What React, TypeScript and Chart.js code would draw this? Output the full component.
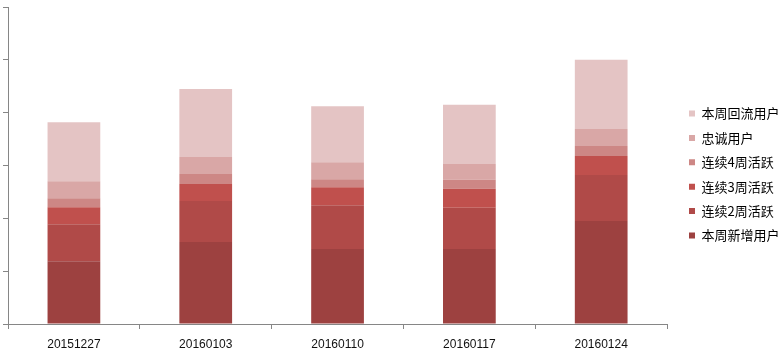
import React, { useEffect, useRef } from "react";
import { Chart, registerables } from "chart.js";

Chart.register(...registerables);

const categories = ["20151227", "20160103", "20160110", "20160117", "20160124"];
const seriesNames = ["本周新增用户", "连续2周活跃", "连续3周活跃", "连续4周活跃", "忠诚用户", "本周回流用户"];
const newUsers = [119, 155, 142, 142, 195];
const active2 = [70, 78, 83, 78, 87];
const active3 = [32, 32, 34, 36, 36];
const active4 = [17, 19, 15, 17, 19];
const loyal = [32, 32, 32, 30, 32];
const returning = [112, 129, 106, 112, 131];
const colors = ["#9D4140", "#B04A48", "#C0504D", "#CD8785", "#D9A7A6", "#E4C4C4"];
const yMax = 600;
const yStep = 100;

const legendShift = {
  id: "legendShift",
  afterLayout(chart: any) {
    const l = chart.legend;
    if (l) {
      const dx = 689 - 11.4 - l.left;
      l.left += dx;
      l.right += dx;
      l.top -= 4;
      l.bottom -= 4;
    }
  },
};

export default function App() {
  const ref = useRef<HTMLCanvasElement | null>(null);
  useEffect(() => {
    if (!ref.current) return;
    const series = [newUsers, active2, active3, active4, loyal, returning];
    const chart = new Chart(ref.current, {
      type: "bar",
      data: {
        labels: categories,
        datasets: series.map((d, i) => ({
          label: seriesNames[i],
          data: d,
          backgroundColor: colors[i],
          borderWidth: 0,
          barPercentage: 0.4,
          categoryPercentage: 1,
        })),
      },
      options: {
        responsive: false,
        animation: false,
        devicePixelRatio: 1,
        layout: { padding: { left: 3, top: 7, right: 2, bottom: 0 } },
        plugins: {
          tooltip: { enabled: false },
          legend: {
            position: "right",
            reverse: true,
            labels: {
              boxWidth: 6,
              boxHeight: 6,
              padding: 11.4,
              color: "#000",
              font: { family: "'Noto Sans CJK SC', sans-serif", size: 13 },
            },
          },
        },
        scales: {
          x: {
            stacked: true,
            afterFit(scale: any) {
              scale.height = 26;
            },
            grid: { drawOnChartArea: false, drawTicks: true, tickLength: 5, color: "#868686", offset: true },
            border: { color: "#868686", width: 1 },
            ticks: {
              color: "#111",
              padding: 8,
              font: { family: "'Liberation Sans', sans-serif", size: 12 },
            },
          },
          y: {
            stacked: true,
            min: 0,
            max: yMax,
            grid: { drawOnChartArea: false, drawTicks: true, tickLength: 5, color: "#868686" },
            border: { color: "#868686", width: 1 },
            ticks: { display: false, stepSize: yStep },
          },
        },
      },
      plugins: [legendShift],
    });
    return () => chart.destroy();
  }, []);
  return (
    <div style={{ position: "absolute", left: 0, top: 0, width: 781, height: 350 }}>
      <canvas ref={ref} width={781} height={350} style={{ display: "block" }} />
    </div>
  );
}
